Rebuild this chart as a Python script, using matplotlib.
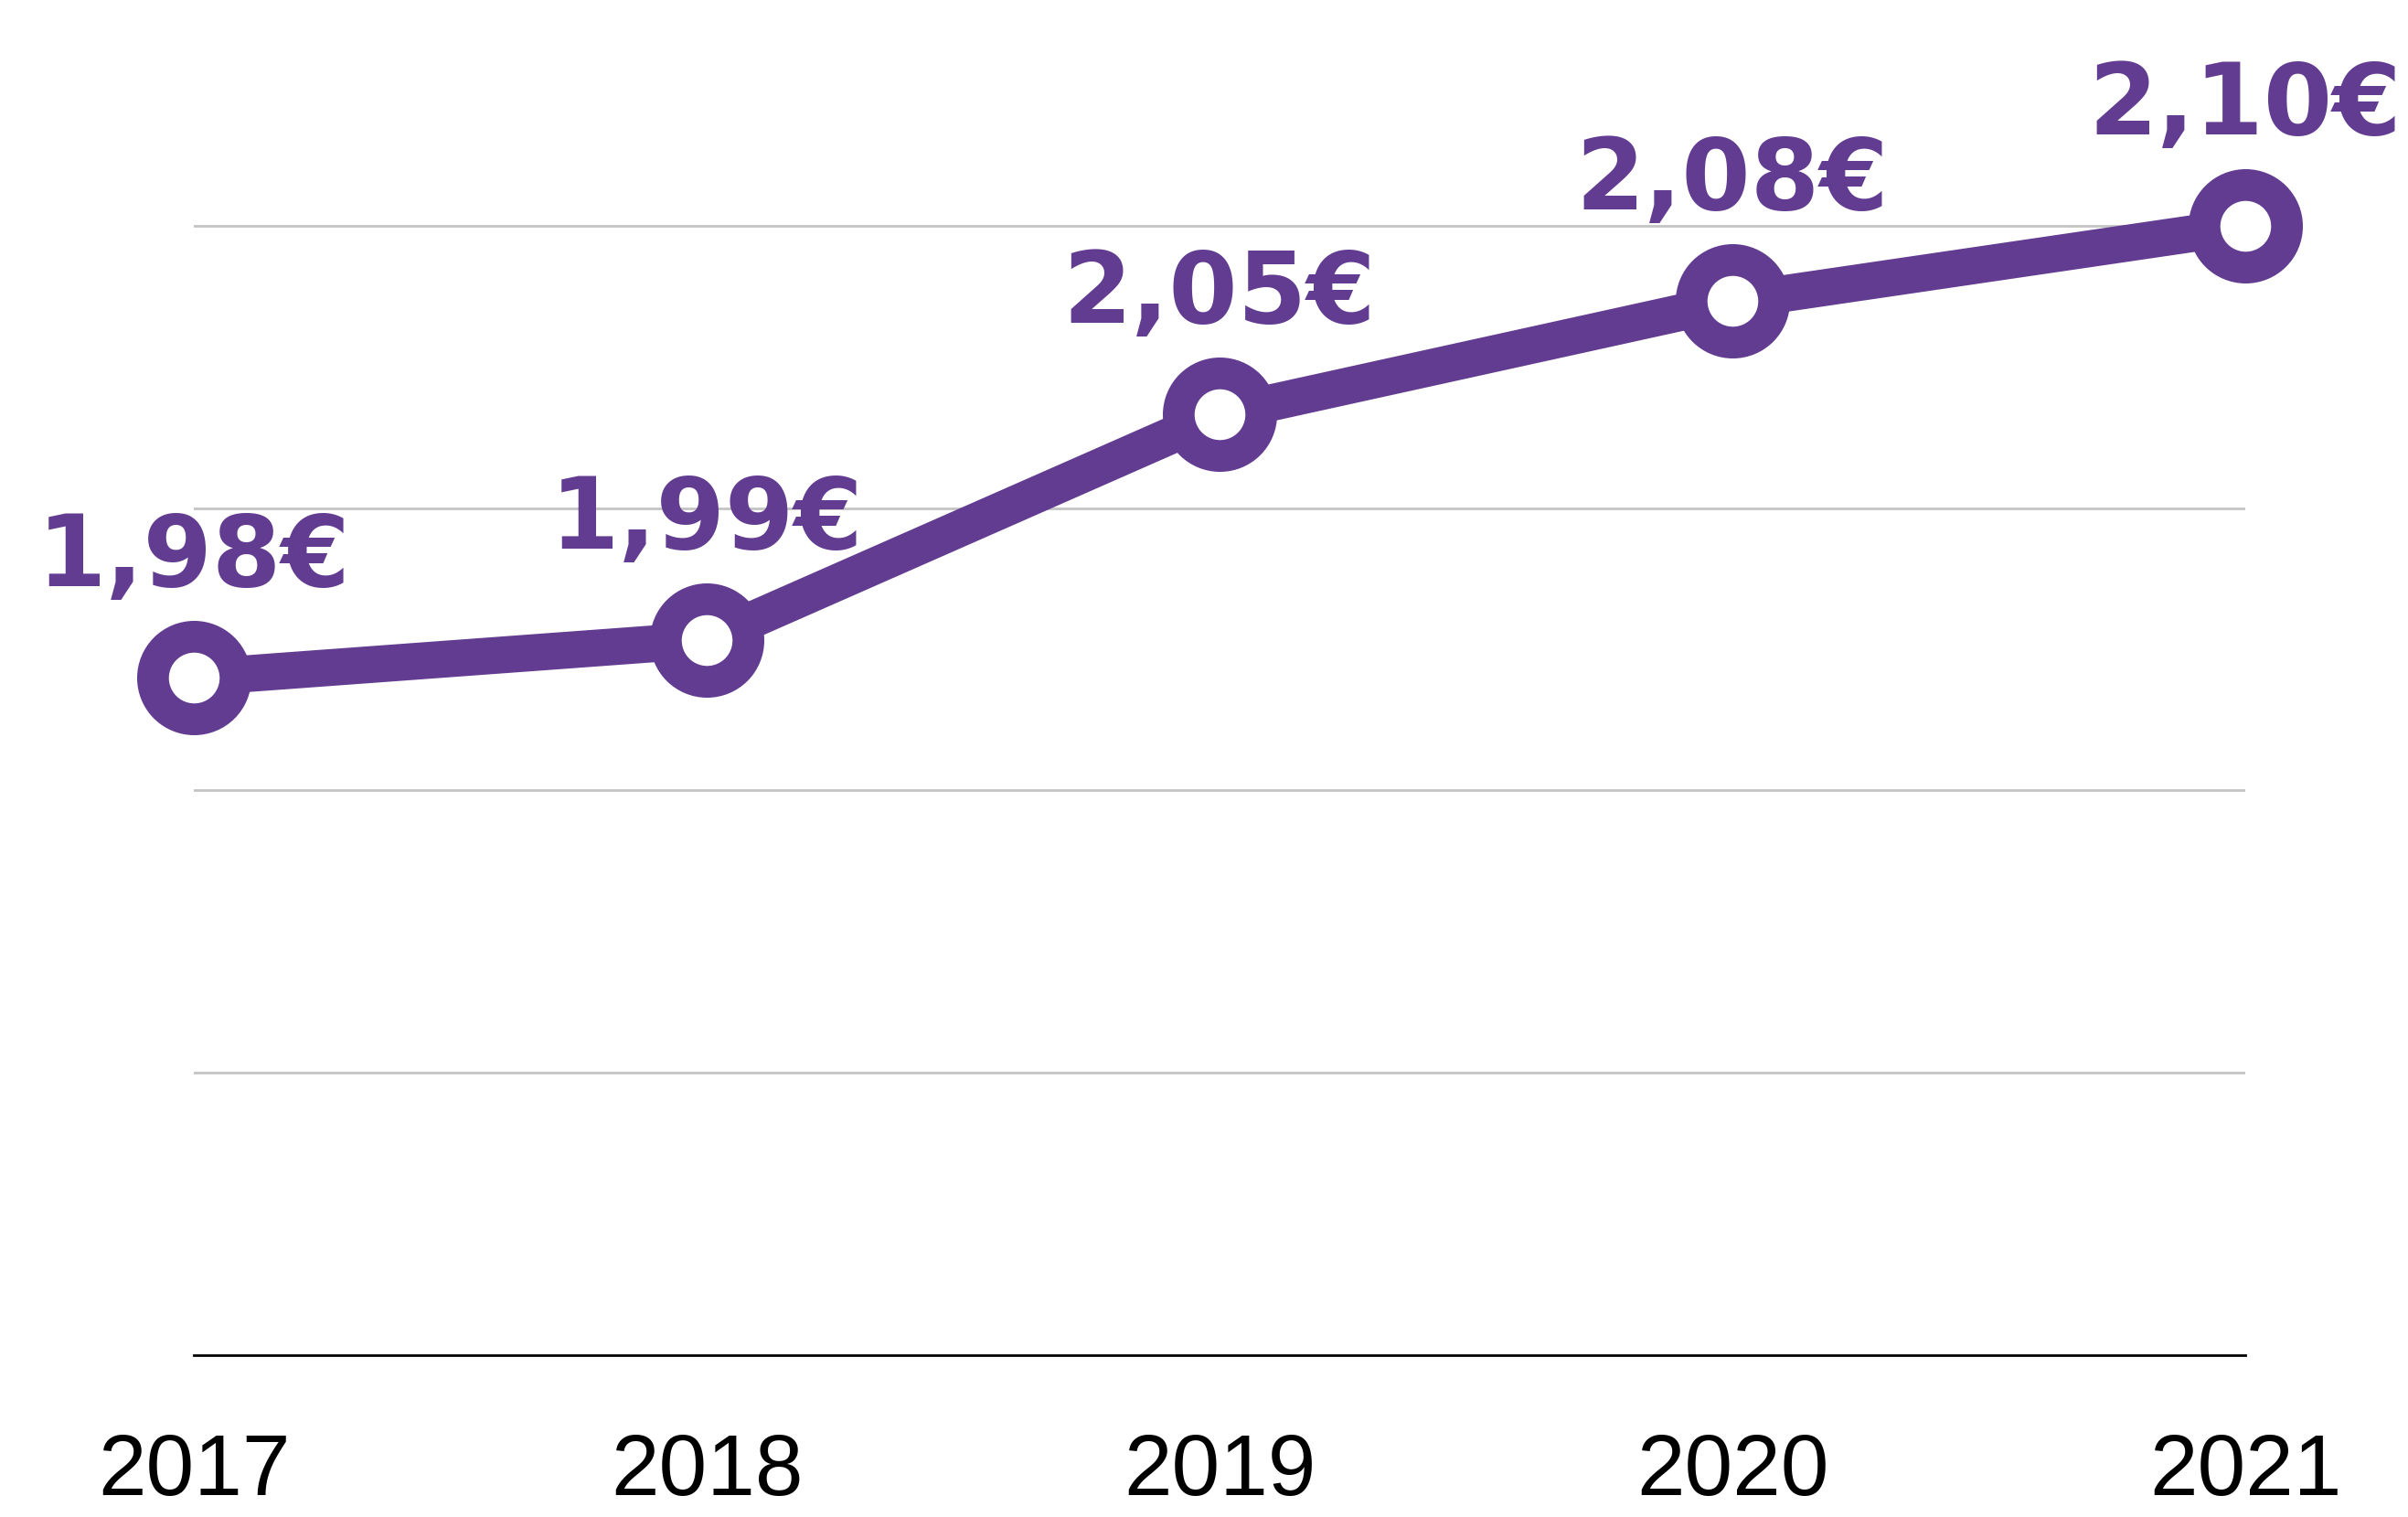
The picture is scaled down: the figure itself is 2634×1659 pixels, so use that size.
import matplotlib
matplotlib.use("Agg")
import matplotlib.pyplot as plt

# price per year (euros)
years = [2017, 2018, 2019, 2020, 2021]
prices = [1.98, 1.99, 2.05, 2.08, 2.10]
price_labels = ["1,98€", "1,99€", "2,05€", "2,08€", "2,10€"]
grid_levels = [1.875, 1.95, 2.025, 2.10]

purple = "#623c91"

fig = plt.figure(figsize=(26.34, 16.59), dpi=100)
ax = fig.add_axes([0.0805, 0.1067, 0.852, 0.8933])

for g in grid_levels:
    ax.axhline(g, color="#c4c4c4", lw=2, zorder=1)

ax.plot(
    years,
    prices,
    color=purple,
    lw=29,
    marker="o",
    ms=65,
    mew=25,
    mfc="white",
    mec=purple,
    clip_on=False,
    zorder=3,
)

for x, y, lab in zip(years, prices, price_labels):
    ax.annotate(
        lab,
        (x, y),
        xytext=(0, 72),
        textcoords="offset points",
        ha="center",
        va="baseline",
        fontsize=78,
        fontweight="bold",
        family="DejaVu Sans",
        color=purple,
        annotation_clip=False,
    )

ax.set_xlim(2017, 2021)
ax.set_ylim(1.80, 2.16)
ax.set_yticks([])
ax.set_xticks(years)
ax.set_xticklabels([str(y) for y in years])
ax.tick_params(axis="x", length=0, pad=110)
for t in ax.get_xticklabels():
    t.set_va("baseline")
    t.set_fontsize(68)
    t.set_family(["Liberation Sans Narrow", "Liberation Sans", "DejaVu Sans"])

for s in ["left", "right", "top"]:
    ax.spines[s].set_visible(False)
ax.spines["bottom"].set_color("black")
ax.spines["bottom"].set_linewidth(2)

fig.savefig("out.png", dpi=100)
